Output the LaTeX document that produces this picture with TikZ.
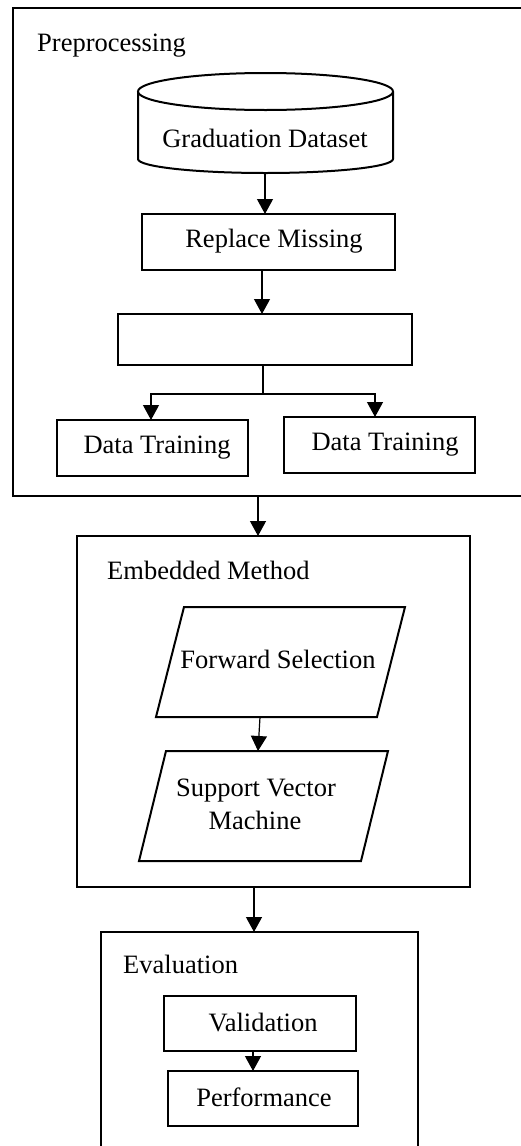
\documentclass[tikz,border=0pt]{standalone}
\usepackage{fontspec}
\setmainfont{Liberation Serif}
\usetikzlibrary{arrows.meta}
\begin{document}
\begin{tikzpicture}[x=1pt,y=-1pt,
  box/.style={draw, line width=2pt, rectangle, inner sep=0pt, outer sep=0pt},
  shp/.style={line width=2pt, line join=miter},
  txt/.style={font=\fontsize{26.5}{30}\selectfont, inner sep=0pt},
  conn/.style={line width=1.2pt},
  arr/.style={line width=1.2pt, -{Triangle[length=15pt,width=16pt]}}]
\useasboundingbox (0,0) rectangle (521,1146);
\clip (0,0) rectangle (521,1146);
\fill[white] (0,0) rectangle (521,1146);

% Preprocessing
\node[box, minimum width=527pt, minimum height=488pt] (pre) at (276.5,252) {};
\node[txt, anchor=base west] (lpre) at (37,51) {Preprocessing};

% cylinder
\node[inner sep=0pt, outer sep=0pt, minimum width=255pt, minimum height=100pt] (db) at (265.5,123) {};
\draw[shp] (265.5,91.5) ellipse [x radius=127.5pt, y radius=18.5pt];
\draw[shp] (138,91.5) -- (138,159) arc[start angle=180, end angle=360, x radius=127.5pt, y radius=14pt] -- (393,91.5);
\node[txt, anchor=base] (ldb) at (265,147) {Graduation Dataset};

\node[box, minimum width=253pt, minimum height=56pt] (rm) at (268.5,242) {};
\node[txt, anchor=base] (lrm) at (274,247) {Replace Missing};

\node[box, minimum width=294pt, minimum height=51pt] (split) at (265,339.5) {};

\node[box, minimum width=191pt, minimum height=56pt] (dtl) at (152.5,448) {};
\node[txt, anchor=base] (ldtl) at (157,453) {Data Training};
\node[box, minimum width=191pt, minimum height=56pt] (dtr) at (379.5,445) {};
\node[txt, anchor=base] (ldtr) at (385,450) {Data Training};

\draw[arr] (265,173) -- (rm.north -| 265,0);
\draw[arr] ([xshift=-6.5pt]rm.south) -- (split.north -| 262,0);
\coordinate (br) at (263,394);
\draw[conn] (split.south -| br) -- (br);
\draw[arr] (br) -| ([xshift=-1.5pt]dtl.north);
\draw[arr] (br) -| ([xshift=-4.5pt]dtr.north);

% Embedded Method
\node[box, minimum width=393pt, minimum height=351pt] (emb) at (273.5,711.5) {};
\node[txt, anchor=base west] (lemb) at (107,579) {Embedded Method};
\coordinate (a1) at ([xshift=-15.5pt]emb.north);
\draw[arr] (pre.south -| a1) -- (a1);

\node[inner sep=0pt, outer sep=0pt, minimum width=221pt, minimum height=110pt] (fs) at (280.5,662) {};
\draw[shp] (184,607) -- (405,607) -- (377,717) -- (156,717) -- cycle;
\node[txt, anchor=base] (lfs) at (278,668) {Forward Selection};

\node[inner sep=0pt, outer sep=0pt, minimum width=222pt, minimum height=110pt] (svm) at (263.5,806) {};
\draw[shp] (166,751) -- (388,751) -- (361,861) -- (139,861) -- cycle;
\node[txt, anchor=base] (lsvm1) at (256,796) {Support Vector};
\node[txt, anchor=base] (lsvm2) at (255,829) {Machine};
\draw[arr] ([xshift=-20.5pt]fs.south) -- ([xshift=-5.5pt]svm.north);

% Evaluation
\node[box, minimum width=317pt, minimum height=228pt] (ev) at (259.5,1046) {};
\node[txt, anchor=base west] (lev) at (123,973) {Evaluation};
\coordinate (a2) at ([xshift=-5.5pt]ev.north);
\draw[arr] (emb.south -| a2) -- (a2);

\node[box, minimum width=192pt, minimum height=55pt] (val) at (260,1023.5) {};
\node[txt, anchor=base] (lval) at (263,1031) {Validation};
\node[box, minimum width=190pt, minimum height=55pt] (perf) at (263,1098.5) {};
\node[txt, anchor=base] (lperf) at (264,1106) {Performance};
\draw[arr] ([xshift=-7pt]val.south) -- (perf.north -| 253,0);
\end{tikzpicture}
\end{document}
